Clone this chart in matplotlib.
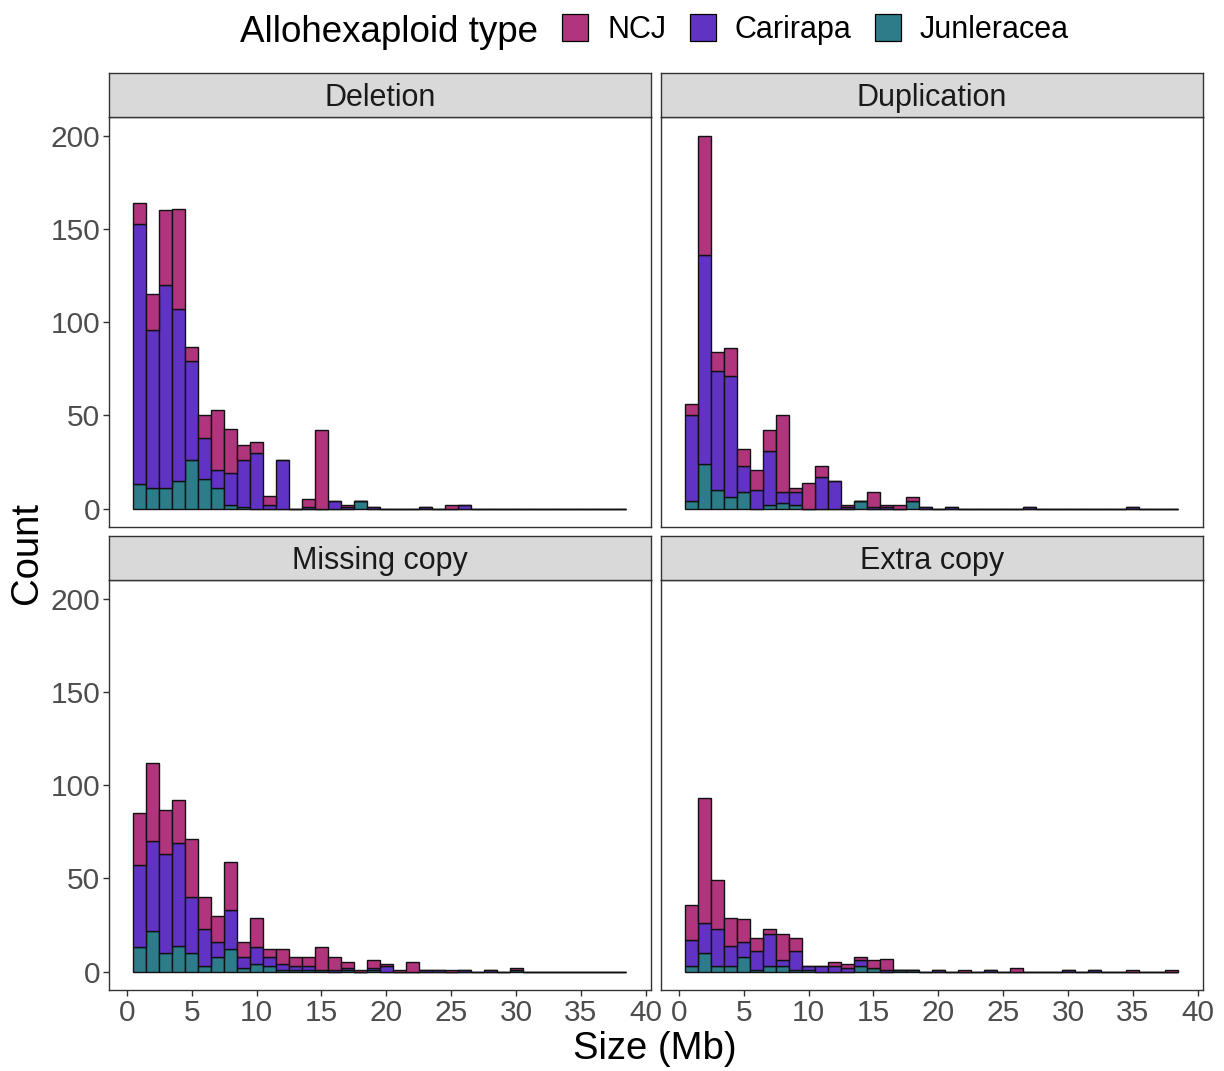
import numpy as np
import matplotlib
matplotlib.use("Agg")
import matplotlib.pyplot as plt
from matplotlib.patches import Rectangle

plt.rcParams['font.family'] = ['Liberation Sans', 'DejaVu Sans']

# ---------------- data (counts per 1-Mb bin, bins centred at 1..38 Mb) ----------------
bin_centers = list(range(1, 39))
types = ["NCJ", "Carirapa", "Junleracea"]
colors = {"NCJ": "#B0357C", "Carirapa": "#6133C4", "Junleracea": "#2D7C89"}
panels = ["Deletion", "Duplication", "Missing copy", "Extra copy"]

def pad(v):
    return v + [0] * (38 - len(v))

# Deletion
del_junleracea = pad([13, 11, 11, 15, 26, 16, 11, 2, 1, 0, 0, 0, 0, 0, 0, 0, 0, 4])
del_carirapa = pad([140, 85, 109, 92, 53, 22, 10, 17, 25, 30, 2, 26, 0, 1, 0, 4, 1, 0, 1, 0,
                    0, 0, 1, 0, 0, 2])
del_ncj = pad([11, 19, 40, 54, 8, 12, 32, 24, 8, 6, 5, 0, 0, 4, 42, 0, 1, 0, 0, 0,
               0, 0, 0, 0, 2])

# Duplication
dup_junleracea = pad([4, 24, 10, 6, 9, 0, 2, 3, 2, 0, 0, 0, 0, 4, 0, 0, 0, 4])
dup_carirapa = pad([46, 112, 64, 65, 14, 10, 29, 6, 7, 0, 17, 15, 1, 0, 1, 1, 0, 0, 1, 0,
                    1, 0, 0, 0, 0, 0, 1, 0, 0, 0, 0, 0, 0, 0, 1])
dup_ncj = pad([6, 64, 10, 15, 9, 11, 11, 41, 2, 14, 6, 0, 1, 0, 8, 1, 2, 2])

# Missing copy
mis_junleracea = pad([13, 22, 10, 14, 10, 3, 8, 12, 2, 4, 3, 1, 1, 1, 1, 0, 1, 0, 1, 0,
                      0, 0, 0, 0, 0, 0, 0, 0, 0, 1])
mis_carirapa = pad([44, 48, 53, 55, 30, 20, 8, 21, 6, 9, 5, 3, 2, 2, 0, 1, 1, 0, 1, 3,
                    0, 0, 1, 1, 0, 1, 0, 1])
mis_ncj = pad([28, 42, 24, 23, 31, 17, 14, 26, 8, 16, 4, 8, 5, 5, 12, 7, 3, 1, 4, 1,
               1, 5, 0, 0, 1, 0, 0, 0, 0, 1])

# Extra copy
ext_junleracea = pad([3, 10, 3, 3, 8, 1, 3, 3, 1, 1, 0, 0, 0, 3, 2, 0, 1, 1])
ext_carirapa = pad([14, 16, 20, 11, 8, 10, 17, 3, 10, 2, 3, 3, 2, 3, 0, 1, 0, 0, 0, 1,
                    0, 0, 0, 1, 0, 0, 0, 0, 0, 1, 0, 1])
ext_ncj = pad([19, 67, 26, 15, 12, 7, 3, 14, 7, 0, 0, 2, 2, 2, 4, 6, 0, 0, 0, 0,
               0, 1, 0, 0, 0, 2, 0, 0, 0, 0, 0, 0, 0, 0, 1, 0, 0, 1])

data = {
    "Deletion": {"NCJ": del_ncj, "Carirapa": del_carirapa, "Junleracea": del_junleracea},
    "Duplication": {"NCJ": dup_ncj, "Carirapa": dup_carirapa, "Junleracea": dup_junleracea},
    "Missing copy": {"NCJ": mis_ncj, "Carirapa": mis_carirapa, "Junleracea": mis_junleracea},
    "Extra copy": {"NCJ": ext_ncj, "Carirapa": ext_carirapa, "Junleracea": ext_junleracea},
}

x_ticks = [0, 5, 10, 15, 20, 25, 30, 35, 40]
y_ticks = [0, 50, 100, 150, 200]

# ---------------- layout ----------------
W, H = 1224, 1071
fig = plt.figure(figsize=(W / 100, H / 100), dpi=100)

def rect(x0, y0, x1, y1):
    return [x0 / W, 1 - y1 / H, (x1 - x0) / W, (y1 - y0) / H]

cols = [(108.7, 651.0), (660.7, 1203.0)]
rows = [((73.3, 117.3), (117.3, 527.3)), ((536.3, 580.3), (580.3, 990.3))]
grey20 = "#333333"
tick_col = "#4D4D4D"

for i, name in enumerate(panels):
    r, c = divmod(i, 2)
    (sy0, sy1), (py0, py1) = rows[r]
    x0, x1 = cols[c]
    ax = fig.add_axes(rect(x0, py0, x1, py1))
    bottom = np.zeros(len(bin_centers))
    for t in ["Junleracea", "Carirapa", "NCJ"]:
        vals = np.array(data[name][t], dtype=float)
        ax.bar(bin_centers, vals, width=1.0, bottom=bottom, color=colors[t],
               edgecolor="#111111", linewidth=1.0, align="center", zorder=2)
        bottom = bottom + vals
    ax.set_xlim(-1.4, 40.4)
    ax.set_ylim(-10, 210)
    ax.set_xticks(x_ticks)
    ax.set_yticks(y_ticks)
    for s in ax.spines.values():
        s.set_color(grey20)
        s.set_linewidth(1.0)
    ax.tick_params(axis="both", length=4, width=1.0, color=grey20,
                   labelsize=21.5, labelcolor=tick_col, pad=2)
    if r == 0:
        ax.tick_params(axis="x", labelbottom=False, length=0)
    if c == 1:
        ax.tick_params(axis="y", labelleft=False, length=0)
    # strip
    sax = fig.add_axes(rect(x0, sy0, x1, sy1))
    sax.set_facecolor("#D9D9D9")
    sax.set_xticks([])
    sax.set_yticks([])
    for s in sax.spines.values():
        s.set_color(grey20)
        s.set_linewidth(1.0)
    sax.text(0.5, 0.43, name, ha="center", va="center", fontsize=22,
             color="#1A1A1A", transform=sax.transAxes)

# axis titles
fig.text(655 / W, 1 - 1049 / H, "Size (Mb)", ha="center", va="center", fontsize=27.5)
fig.text(27 / W, 1 - 553 / H, "Count", ha="center", va="center", fontsize=27.5,
         rotation=90)

# legend
fig.text(240 / W, 1 - 32 / H, "Allohexaploid type", ha="left", va="center", fontsize=26.5)
key_x = {"NCJ": 562, "Carirapa": 690, "Junleracea": 875}
for t in types:
    kx = key_x[t]
    fig.patches.append(Rectangle((kx / W, 1 - 41 / H), 26 / W, 27 / H,
                                 transform=fig.transFigure, facecolor=colors[t],
                                 edgecolor="black", linewidth=0.9))
    fig.text((kx + 45) / W, 1 - 30 / H, t, ha="left", va="center", fontsize=22)

fig.savefig("out.png", dpi=100, facecolor="white")
